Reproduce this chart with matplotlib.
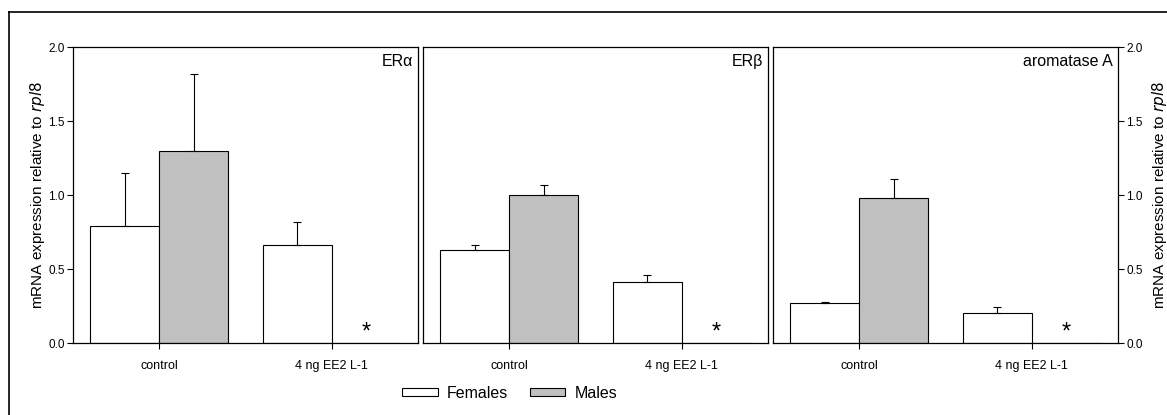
import matplotlib.pyplot as plt
import numpy as np
from matplotlib.patches import Patch
from matplotlib.lines import Line2D

plt.rcParams['font.family'] = ['Liberation Sans', 'DejaVu Sans']

groups = ['control', '4 ng EE2 L-1']
panels = ['ERα', 'ERβ', 'aromatase A']

females = [[0.79, 0.66], [0.63, 0.41], [0.27, 0.20]]
females_err = [[0.36, 0.16], [0.03, 0.05], [0.005, 0.04]]
males = [[1.30, 0.0], [1.00, 0.0], [0.98, 0.0]]
males_err = [[0.52, 0.0], [0.07, 0.0], [0.13, 0.0]]

fig = plt.figure(figsize=(11.67, 4.15), dpi=100)

# outer frame (only left and top visible)
fig.add_artist(Line2D([9/1167, 9/1167], [0, 1 - 12/415], color='black', lw=1.2))
fig.add_artist(Line2D([9/1167, 1], [1 - 12/415, 1 - 12/415], color='black', lw=1.2))

lefts = [73/1167, 423/1167, 773/1167]
bottom = 1 - 343/415
height = 296/415
width = 345/1167
ylab = 'mRNA expression relative to $\\it{rpl8}$'

x = np.array([1, 2])
w = 0.4
for i in range(3):
    ax = fig.add_axes([lefts[i], bottom, width, height])
    ax.bar(x - w/2, females[i], w, color='white', edgecolor='black', lw=0.8)
    ax.bar(x + w/2, males[i], w, color='#c0c0c0', edgecolor='black', lw=0.8)
    ax.errorbar(x - w/2, females[i], yerr=[np.zeros(2), females_err[i]],
                fmt='none', ecolor='black', elinewidth=0.8, capsize=3, capthick=0.8)
    ax.errorbar(x[:1] + w/2, males[i][:1], yerr=[[0], males_err[i][:1]],
                fmt='none', ecolor='black', elinewidth=0.8, capsize=3, capthick=0.8)
    ax.text(2 + w/2, 0.07, '*', ha='center', va='center', fontsize=17)
    ax.text(0.985, 0.975, panels[i], transform=ax.transAxes, ha='right', va='top', fontsize=11.5)
    ax.set_xlim(0.5, 2.5)
    ax.set_ylim(0, 2.0)
    ax.set_xticks(x)
    ax.set_xticklabels(groups, fontsize=9)
    ax.tick_params(axis='x', direction='out', length=4, width=0.8, pad=8)
    for s in ax.spines.values():
        s.set_linewidth(0.9)
    if i == 0:
        ax.set_yticks([0, 0.5, 1.0, 1.5, 2.0])
        ax.set_yticklabels(['0.0', '0.5', '1.0', '1.5', '2.0'], fontsize=8.5)
        ax.tick_params(axis='y', direction='out', length=4, width=0.8, pad=2)
        ax.set_ylabel(ylab, fontsize=11, labelpad=1)
    elif i == 2:
        ax.yaxis.tick_right()
        ax.yaxis.set_label_position('right')
        ax.set_yticks([0, 0.5, 1.0, 1.5, 2.0])
        ax.set_yticklabels(['0.0', '0.5', '1.0', '1.5', '2.0'], fontsize=8.5)
        ax.tick_params(axis='y', direction='out', length=4, width=0.8, pad=2)
        ax.set_ylabel(ylab, fontsize=11, labelpad=5)
    else:
        ax.set_yticks([])

handles = [Patch(facecolor='white', edgecolor='black', lw=0.8),
           Patch(facecolor='#c0c0c0', edgecolor='black', lw=0.8)]
fig.legend(handles, ['Females', 'Males'], loc='center', bbox_to_anchor=(510/1167, 1 - 393/415),
           ncol=2, frameon=False, fontsize=11.5, handlelength=2.2, handleheight=0.45,
           columnspacing=1.35, handletextpad=0.6)

fig.savefig('out.png', dpi=100)
